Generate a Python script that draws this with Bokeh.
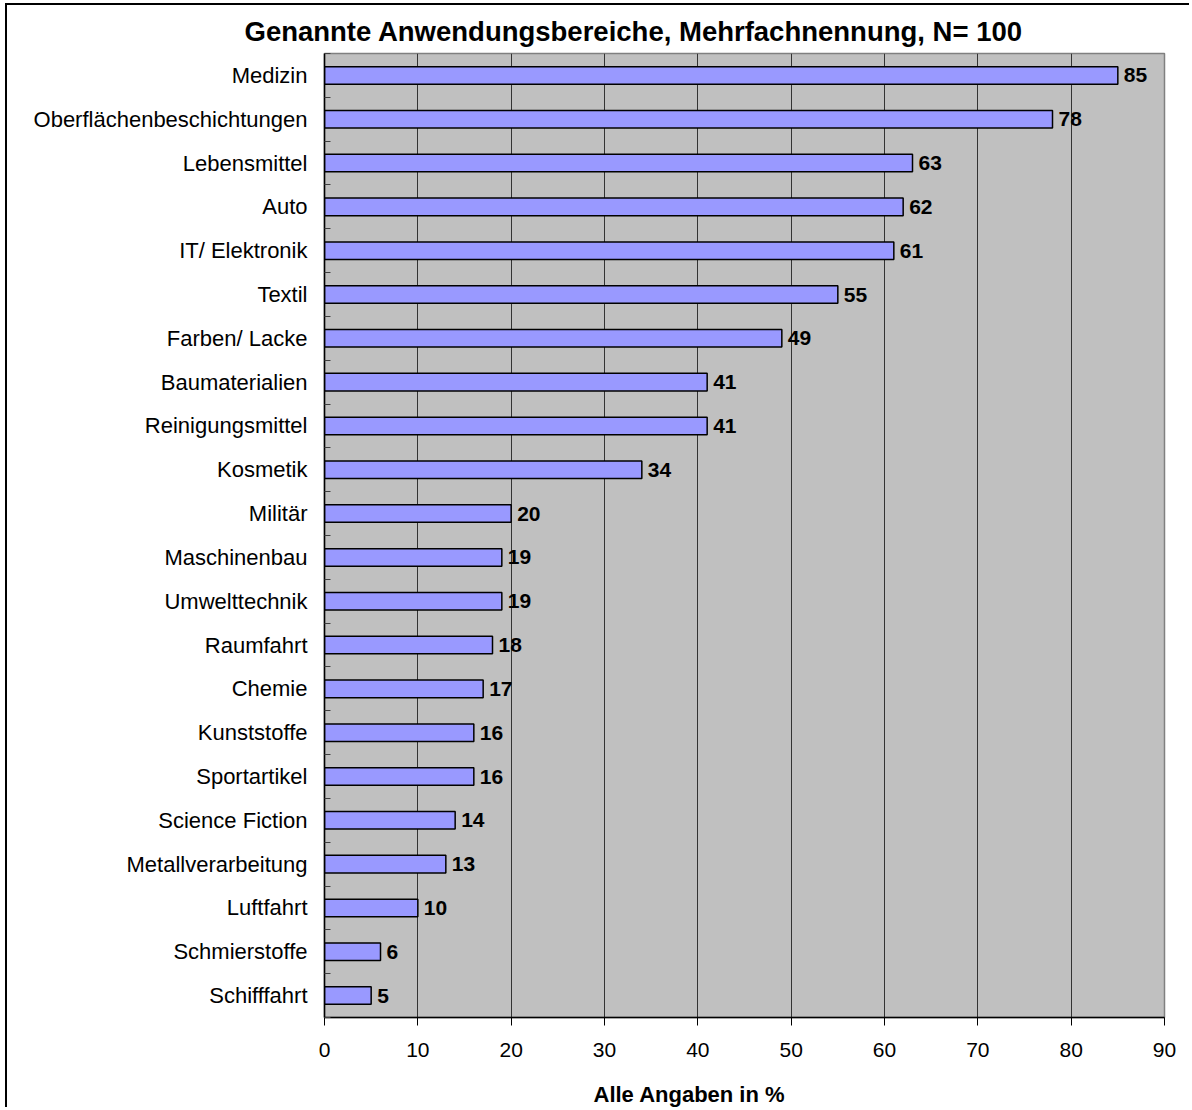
from bokeh.plotting import figure
from bokeh.models import FixedTicker, ColumnDataSource, LabelSet, Title
from bokeh.core.properties import value
from bokeh.embed import file_html
from bokeh.resources import INLINE

categories = ["Medizin", "Oberflächenbeschichtungen", "Lebensmittel", "Auto",
              "IT/ Elektronik", "Textil", "Farben/ Lacke", "Baumaterialien",
              "Reinigungsmittel", "Kosmetik", "Militär", "Maschinenbau",
              "Umwelttechnik", "Raumfahrt", "Chemie", "Kunststoffe",
              "Sportartikel", "Science Fiction", "Metallverarbeitung",
              "Luftfahrt", "Schmierstoffe", "Schifffahrt"]
values = [85, 78, 63, 62, 61, 55, 49, 41, 41, 34, 20, 19, 19, 18, 17, 16, 16, 14, 13, 10, 6, 5]
x_ticks = [0, 10, 20, 30, 40, 50, 60, 70, 80, 90]
title_text = "Genannte Anwendungsbereiche, Mehrfachnennung, N= 100"
x_title = "Alle Angaben in %"

FONT = "Liberation Sans"
n = len(categories)
ypos = [n - 1 - i for i in range(n)]
src = ColumnDataSource(dict(y=ypos, v=values, cat=categories,
                            txt=[str(v) for v in values]))

p = figure(width=1184, height=1104, x_range=(0, 90), y_range=(-0.5, n - 0.5),
           output_backend="svg", toolbar_location=None,
           min_border_left=317, min_border_right=27,
           min_border_top=48, min_border_bottom=92)
p.styles = {"border-left": "2px solid black", "border-top": "2px solid black",
            "margin-left": "5px", "margin-top": "3px"}
p.background_fill_color = "#C0C0C0"
p.border_fill_color = "white"
p.outline_line_color = "#808080"
p.outline_line_width = 1.5

# title
p.title.text = title_text
p.title.align = "left"
p.title.offset = -80
p.title.text_font = FONT
p.title.text_font_style = "bold"
p.title.text_font_size = "27.5px"
p.title.text_color = "black"
p.title.standoff = 14

p.hbar(y="y", left=0, right="v", height=0.4, fill_color="#9999FF",
       line_color="black", line_width=1.5, source=src)

p.add_layout(LabelSet(x="v", y="y", text="txt", x_offset=6, source=src,
                      text_baseline="middle", text_font=value(FONT),
                      text_font_style="bold", text_font_size="21px",
                      text_color="black"))

# axes
xa = p.xaxis[0]
xa.ticker = FixedTicker(ticks=x_ticks)
xa.major_tick_out = 8
xa.major_tick_in = 0
xa.minor_tick_line_color = None
xa.major_label_standoff = 17
xa.major_label_text_font = FONT
xa.major_label_text_font_size = "21px"
xa.major_label_text_color = "black"
xa.axis_line_color = "black"
xa.axis_line_width = 1.5

ya = p.yaxis[0]
ya.ticker = FixedTicker(ticks=ypos, minor_ticks=[k - 0.5 for k in range(n + 1)])
ya.major_label_overrides = {y: c for y, c in zip(ypos, categories)}
ya.major_tick_in = 0
ya.major_tick_out = 0
ya.major_tick_line_color = None
ya.minor_tick_in = 6
ya.minor_tick_out = 0
ya.minor_tick_line_color = "#404040"
ya.major_label_standoff = 17
ya.major_label_text_font = FONT
ya.major_label_text_font_size = "22px"
ya.major_label_text_color = "black"
ya.axis_line_color = "black"
ya.axis_line_width = 1.5

p.ygrid.visible = False
p.xgrid.ticker = FixedTicker(ticks=x_ticks)
p.xgrid.grid_line_color = "#333333"
p.xgrid.grid_line_width = 1

# axis title (leading blank line pushes it down inside its panel)
p.add_layout(Title(text="\n" + x_title, align="left", offset=269, text_font=FONT,
                   text_font_style="bold", text_font_size="22px",
                   text_line_height=0.8,
                   text_color="black", standoff=0), "below")

open("out.html", "w").write(file_html(p, INLINE))
